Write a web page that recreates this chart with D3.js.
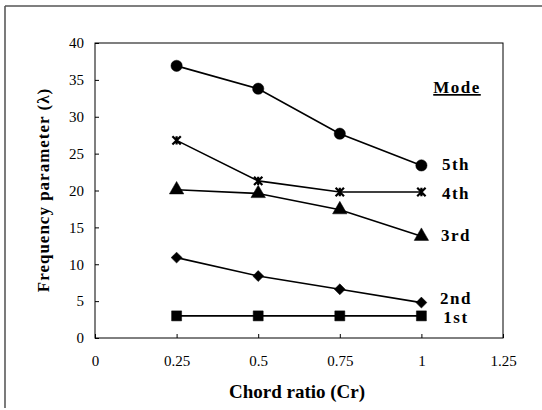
<!DOCTYPE html>
<html>
<head>
<meta charset="utf-8">
<script src="https://cdn.jsdelivr.net/npm/d3@7"></script>
<style>
  body { margin: 0; background: white; }
  text { font-family: "Liberation Serif", "DejaVu Serif", serif; }
</style>
</head>
<body>
<div id="chart"></div>
<script>
// chord ratio values on x
const chordRatio = [0.25, 0.5, 0.75, 1]
// frequency parameter per mode
const mode1 = [3.0, 3.0, 3.0, 3.0]
const mode2 = [10.9, 8.4, 6.6, 4.8]
const mode3 = [20.1, 19.6, 17.4, 13.8]
const mode4 = [26.8, 21.3, 19.8, 19.8]
const mode5 = [36.9, 33.8, 27.7, 23.4]
const modeNames = ['1st', '2nd', '3rd', '4th', '5th']
const xTicks = [0, 0.25, 0.5, 0.75, 1, 1.25]
const yTicks = [0, 5, 10, 15, 20, 25, 30, 35, 40]

// excel style star: an X with a vertical bar through it
const symbolStar = {
  draw(ctx, size) {
    const r = Math.sqrt(size) / 2
    ctx.moveTo(-r, -r); ctx.lineTo(r, r)
    ctx.moveTo(-r, r); ctx.lineTo(r, -r)
    ctx.moveTo(0, -r); ctx.lineTo(0, r)
  }
}
// square turned 45 degrees
const symbolRhomb = {
  draw(ctx, size) {
    const r = Math.sqrt(size / 2)
    ctx.moveTo(0, -r); ctx.lineTo(r, 0); ctx.lineTo(0, r); ctx.lineTo(-r, 0)
    ctx.closePath()
  }
}

const series = [
  { name: modeNames[0], values: mode1, symbol: d3.symbolSquare, size: 100, labelY: 2.0 },
  { name: modeNames[1], values: mode2, symbol: symbolRhomb, size: 60, labelY: 4.6 },
  { name: modeNames[2], values: mode3, symbol: d3.symbolTriangle, size: 90, labelY: 13.2 },
  { name: modeNames[3], values: mode4, symbol: symbolStar, size: 70, labelY: 18.9 },
  { name: modeNames[4], values: mode5, symbol: d3.symbolCircle, size: 100, labelY: 22.8 }
]

const W = 542, H = 410
const svg = d3.select('#chart').append('svg')
  .attr('width', W)
  .attr('height', H)

// outer frame (left + top only, like the scan)
svg.append('line').attr('x1', 5).attr('y1', 6).attr('x2', 5).attr('y2', 408)
  .attr('stroke', '#222').attr('stroke-width', 1.2)
svg.append('line').attr('x1', 5).attr('y1', 6).attr('x2', W).attr('y2', 6)
  .attr('stroke', '#555').attr('stroke-width', 1.5)

const pLeft = 95, pRight = 503, pTop = 43, pBottom = 338

const x = d3.scaleLinear().domain([0, 1.25]).range([pLeft, pRight])
const y = d3.scaleLinear().domain([0, 40]).range([pBottom, pTop])

// plot box
svg.append('rect')
  .attr('x', pLeft).attr('y', pTop)
  .attr('width', pRight - pLeft).attr('height', pBottom - pTop)
  .attr('fill', 'none').attr('stroke', '#000').attr('stroke-width', 1)

const xAxis = svg.append('g')
  .attr('transform', `translate(0,${pBottom})`)
  .call(d3.axisBottom(x).tickValues(xTicks).tickSizeInner(-4).tickSizeOuter(0)
    .tickFormat(d => d3.format('')(d)).tickPadding(17))
xAxis.select('.domain').remove()
xAxis.attr('font-family', '"Liberation Serif", serif')
xAxis.selectAll('text').attr('font-size', 15).attr('fill', '#000')

const yAxis = svg.append('g')
  .attr('transform', `translate(${pLeft},0)`)
  .call(d3.axisLeft(y).tickValues(yTicks).tickSizeInner(-4).tickSizeOuter(0).tickPadding(11))
yAxis.select('.domain').remove()
yAxis.attr('font-family', '"Liberation Serif", serif')
yAxis.selectAll('text').attr('font-size', 15).attr('fill', '#000')

const line = d3.line()
  .x((d, i) => x(chordRatio[i]))
  .y(d => y(d))

series.forEach(s => {
  svg.append('path')
    .datum(s.values)
    .attr('d', line)
    .attr('fill', 'none')
    .attr('stroke', '#000')
    .attr('stroke-width', 1.6)

  const sym = d3.symbol().type(s.symbol).size(s.size)
  svg.selectAll(null)
    .data(s.values)
    .enter()
    .append('path')
    .attr('d', sym)
    .attr('transform', (d, i) => `translate(${x(chordRatio[i])},${y(d)})`)
    .attr('fill', '#000')
    .attr('stroke', '#000')
    .attr('stroke-width', s.symbol === symbolStar ? 2.2 : 0.5)

  svg.append('text')
    .attr('x', 456)
    .attr('y', y(s.labelY))
    .attr('text-anchor', 'middle')
    .attr('font-size', 17)
    .attr('font-weight', 'bold')
    .attr('letter-spacing', 1.5)
    .text(s.name)
})

svg.append('text')
  .attr('x', 457).attr('y', 93)
  .attr('text-anchor', 'middle')
  .attr('font-size', 17)
  .attr('font-weight', 'bold')
  .attr('letter-spacing', 1.5)
  .attr('text-decoration', 'underline')
  .text('Mode')

svg.append('text')
  .attr('x', 297).attr('y', 398)
  .attr('text-anchor', 'middle')
  .attr('font-size', 19)
  .attr('font-weight', 'bold')
  .text('Chord ratio (Cr)')

svg.append('text')
  .attr('transform', `translate(49,${190}) rotate(-90)`)
  .attr('text-anchor', 'middle')
  .attr('font-size', 17)
  .attr('font-weight', 'bold')
  .attr('letter-spacing', 1)
  .text('Frequency parameter (λ)')
</script>
</body>
</html>
